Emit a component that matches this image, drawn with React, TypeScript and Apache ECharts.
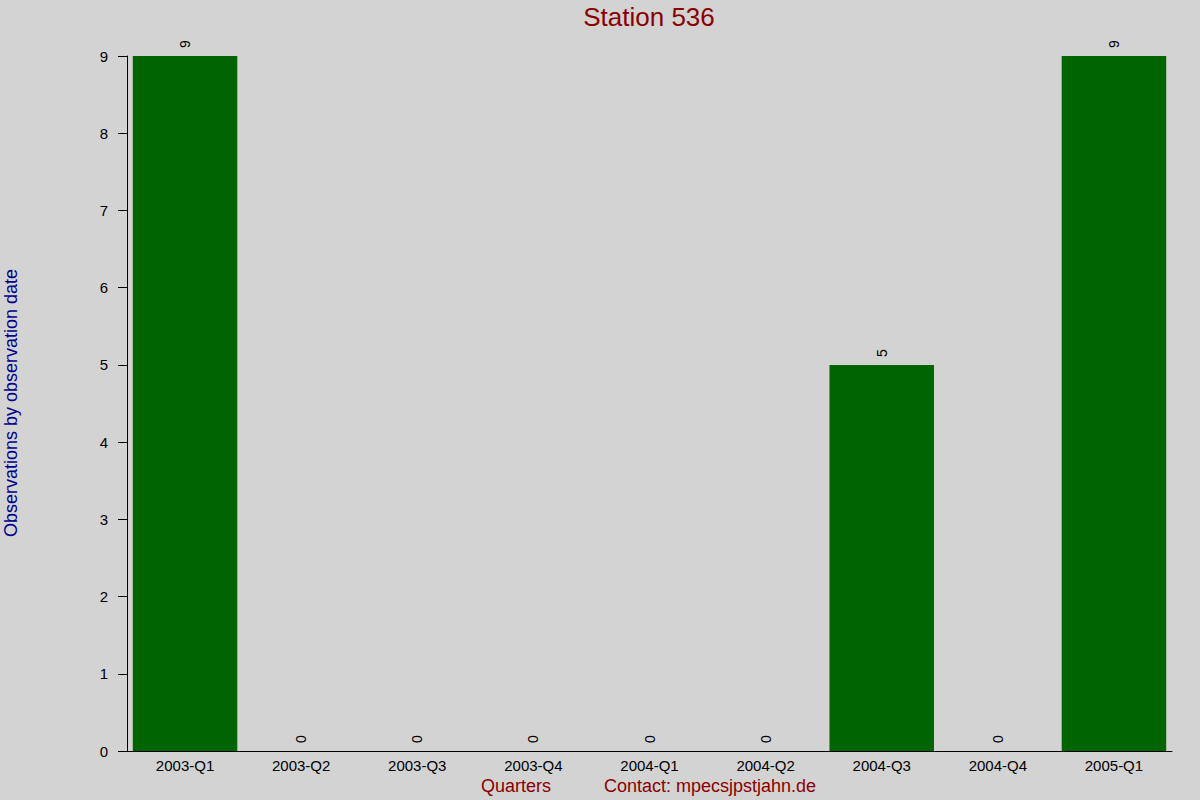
import * as echarts from 'echarts';
import React, { useEffect, useRef } from 'react';

const quarters = [
  '2003-Q1',
  '2003-Q2',
  '2003-Q3',
  '2003-Q4',
  '2004-Q1',
  '2004-Q2',
  '2004-Q3',
  '2004-Q4',
  '2005-Q1',
];
const observations = [9, 0, 0, 0, 0, 0, 5, 0, 9];

const titleText = 'Station 536';
const yAxisTitle = 'Observations by observation date';
const xAxisTitle = 'Quarters';
const contactText = 'Contact: mpecsjpstjahn.de';

const FONT = '"Liberation Sans", Arial, sans-serif';
const DARK_RED = '#8b0000';

const App: React.FC = () => {
  const chartRef = useRef<HTMLDivElement>(null);

  useEffect(() => {
    if (!chartRef.current) return;
    const chart = echarts.init(chartRef.current, undefined, { renderer: 'svg' });

    const option: echarts.EChartsOption = {
      animation: false,
      backgroundColor: '#d3d3d3',
      textStyle: { fontFamily: FONT },
      title: {
        text: titleText,
        left: 649,
        top: 4,
        padding: 0,
        textAlign: 'center',
        textStyle: {
          color: DARK_RED,
          fontSize: 26,
          fontWeight: 'normal',
          fontFamily: FONT,
        },
      },
      grid: { left: 127, right: 28, top: 56, bottom: 49 },
      xAxis: {
        type: 'category',
        data: quarters,
        axisLine: { lineStyle: { color: '#000', width: 1 } },
        axisTick: { show: false },
        axisLabel: { color: '#000', fontSize: 15, margin: 7, interval: 0 },
      },
      yAxis: {
        type: 'value',
        min: 0,
        max: 9,
        interval: 1,
        splitLine: { show: false },
        axisLine: { show: true, lineStyle: { color: '#000', width: 1 } },
        axisTick: { show: true, length: 9, lineStyle: { color: '#000' } },
        axisLabel: { color: '#000', fontSize: 15, margin: 19 },
      },
      series: [
        {
          type: 'bar',
          data: observations,
          barCategoryGap: '10%',
          itemStyle: { color: '#006400' },
          label: {
            show: true,
            position: 'top',
            rotate: 90,
            align: 'left',
            verticalAlign: 'middle',
            distance: 8,
            color: '#000',
            fontSize: 14,
            fontFamily: FONT,
          },
        },
      ],
      graphic: [
        {
          type: 'text',
          x: 11,
          y: 403,
          rotation: Math.PI / 2,
          style: {
            text: yAxisTitle,
            fill: '#00008b',
            fontSize: 18,
            fontFamily: FONT,
            align: 'center',
            verticalAlign: 'middle',
          },
        },
        {
          type: 'text',
          x: 516,
          y: 786,
          style: {
            text: xAxisTitle,
            fill: DARK_RED,
            fontSize: 18,
            fontFamily: FONT,
            align: 'center',
            verticalAlign: 'middle',
          },
        },
        {
          type: 'text',
          x: 710,
          y: 786,
          style: {
            text: contactText,
            fill: DARK_RED,
            fontSize: 18,
            fontFamily: FONT,
            align: 'center',
            verticalAlign: 'middle',
          },
        },
      ],
    };

    chart.setOption(option);
    return () => {
      chart.dispose();
    };
  }, []);

  return (
    <div
      ref={chartRef}
      style={{ position: 'absolute', left: 0, top: 0, width: 1200, height: 800 }}
    />
  );
};

export default App;
